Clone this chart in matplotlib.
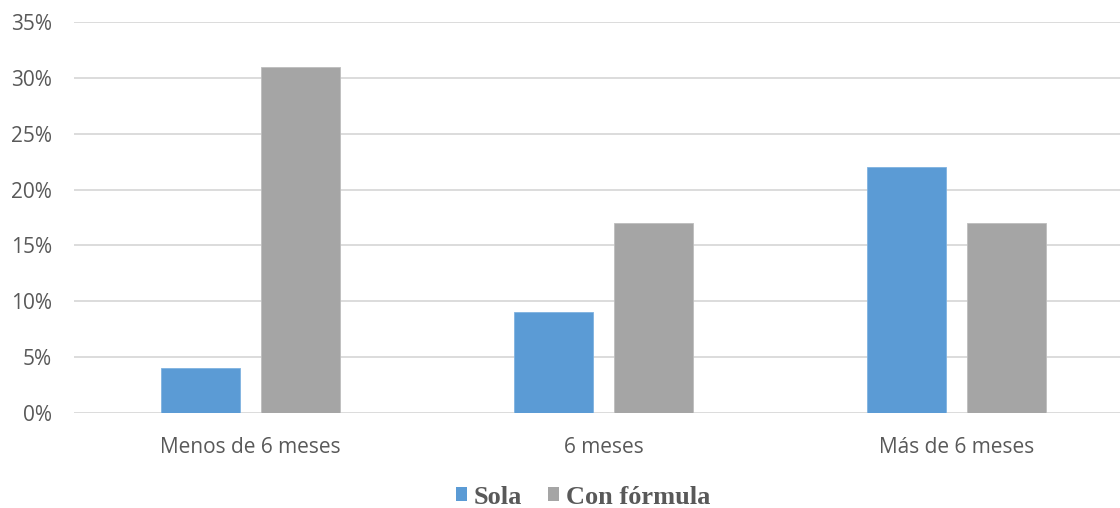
import matplotlib
matplotlib.use("Agg")
import matplotlib.pyplot as plt
from matplotlib.ticker import FuncFormatter
from matplotlib.patches import Patch
import numpy as np

categories = ["Menos de 6 meses", "6 meses", "Más de 6 meses"]
sola = [4, 9, 22]
con_formula = [31, 17, 17]
series_names = ["Sola", "Con fórmula"]
y_ticks = [0, 5, 10, 15, 20, 25, 30, 35]

blue = "#5B9BD5"
gray = "#A5A5A5"
text_color = "#595959"

fig = plt.figure(figsize=(11.2, 5.08), dpi=100)
ax = fig.add_axes([74 / 1120, 1 - 413 / 508, 1 - 74 / 1120, (413 - 22) / 508])

x = np.arange(len(categories))
width = 0.224
offset = 0.1416
ax.bar(x - offset, sola, width, color=blue, edgecolor="#7FB2E0", linewidth=0.6, zorder=3)
ax.bar(x + offset, con_formula, width, color=gray, edgecolor="#BDBDBD", linewidth=0.6, zorder=3)

ax.set_ylim(0, 35)
ax.set_xlim(-0.5, -0.5 + 1046 / 353)
ax.set_yticks(y_ticks)
ax.yaxis.set_major_formatter(FuncFormatter(lambda v, p: f"{int(v)}%"))
ax.set_xticks(x)
ax.set_xticklabels(categories)

ax.grid(axis="y", color="#D9D9D9", linewidth=1.3, zorder=0)
for s in ax.spines.values():
    s.set_visible(False)
ax.tick_params(axis="both", length=0, labelsize=15, labelcolor=text_color)
ax.tick_params(axis="y", pad=16)
ax.tick_params(axis="x", pad=17)
for lbl in ax.get_xticklabels() + ax.get_yticklabels():
    lbl.set_fontfamily("Open Sans")

handles = [Patch(facecolor=blue), Patch(facecolor=gray)]
fig.legend(handles, series_names, loc="center", bbox_to_anchor=(583 / 1120, 1 - 497 / 508),
           ncol=2, frameon=False, handlelength=0.42, handleheight=0.42, handletextpad=0.28,
           columnspacing=0.95,
           prop={"family": "Liberation Serif", "weight": "bold", "size": 19})
for t in fig.legends[0].get_texts():
    t.set_color(text_color)

fig.savefig("out.png", dpi=100)
